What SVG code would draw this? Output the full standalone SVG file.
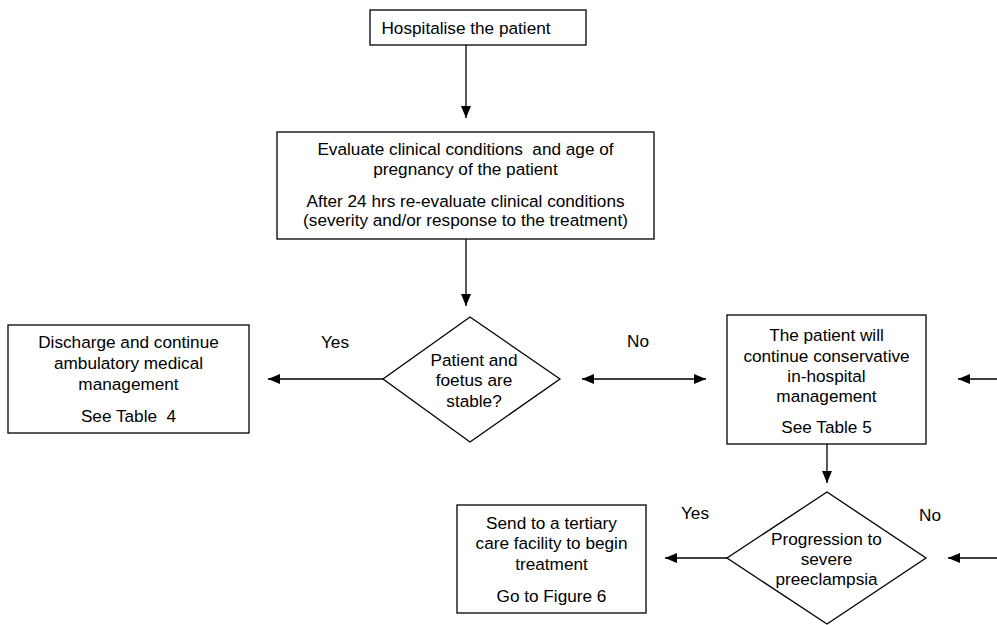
<svg xmlns="http://www.w3.org/2000/svg" width="997" height="625" viewBox="0 0 997 625">
<style>
  .box { fill: #fff; stroke: #000; stroke-width: 1.3; }
  .line { fill: none; stroke: #000; stroke-width: 1.3; }
  text { font-family: "Liberation Sans", Arial, sans-serif; font-size: 17.2px; fill: #000; text-anchor: middle; }
</style>
<defs>
  <marker id="arrow" markerUnits="userSpaceOnUse" markerWidth="13" markerHeight="11" refX="12" refY="5" orient="auto-start-reverse">
    <path d="M0,0 L12,5 L0,10 z" fill="#000"/>
  </marker>
</defs>
<rect width="997" height="625" fill="#fff"/>

<g id="connectors">
  <line class="line" x1="466" y1="45" x2="466" y2="118" marker-end="url(#arrow)"/>
  <line class="line" x1="466" y1="239" x2="466" y2="306" marker-end="url(#arrow)"/>
  <line class="line" x1="383" y1="379" x2="268" y2="379" marker-end="url(#arrow)"/>
  <line class="line" x1="582" y1="379" x2="706" y2="379" marker-start="url(#arrow)" marker-end="url(#arrow)"/>
  <line class="line" x1="997" y1="379" x2="958" y2="379" marker-end="url(#arrow)"/>
  <line class="line" x1="827" y1="444" x2="827" y2="483" marker-end="url(#arrow)"/>
  <line class="line" x1="727" y1="558" x2="665" y2="558" marker-end="url(#arrow)"/>
  <line class="line" x1="997" y1="558" x2="948" y2="558" marker-end="url(#arrow)"/>
  <text x="335" y="348">Yes</text>
  <text x="638" y="347">No</text>
  <text x="695" y="519">Yes</text>
  <text x="930" y="521">No</text>
</g>

<g id="hospitalise">
  <rect class="box" x="370" y="10" width="216" height="35"/>
  <text x="466" y="34">Hospitalise the patient</text>
</g>

<g id="evaluate">
  <rect class="box" x="277" y="132" width="377" height="107"/>
  <text x="465.5" y="155" xml:space="preserve">Evaluate clinical conditions  and age of</text>
  <text x="465.5" y="175">pregnancy of the patient</text>
  <text x="465.5" y="207">After 24 hrs re-evaluate clinical conditions</text>
  <text x="465.5" y="226">(severity and/or response to the treatment)</text>
</g>

<g id="stable">
  <polygon class="box" points="470,317 560,379 470,442 383,379"/>
  <text x="474" y="366">Patient and</text>
  <text x="474" y="386">foetus are</text>
  <text x="474" y="407">stable?</text>
</g>

<g id="discharge">
  <rect class="box" x="8" y="325" width="241" height="108"/>
  <text x="128.5" y="348">Discharge and continue</text>
  <text x="128.5" y="369">ambulatory medical</text>
  <text x="128.5" y="390">management</text>
  <text x="128.5" y="422" xml:space="preserve">See Table  4</text>
</g>

<g id="conservative">
  <rect class="box" x="727" y="315" width="199" height="129"/>
  <text x="826.5" y="341">The patient will</text>
  <text x="826.5" y="362">continue conservative</text>
  <text x="826.5" y="382">in-hospital</text>
  <text x="826.5" y="402">management</text>
  <text x="826.5" y="433">See Table 5</text>
</g>

<g id="progression">
  <polygon class="box" points="827,492 926,558 827,624 727,558"/>
  <text x="826.5" y="545">Progression to</text>
  <text x="826.5" y="565">severe</text>
  <text x="826.5" y="585">preeclampsia</text>
</g>

<g id="tertiary">
  <rect class="box" x="457" y="505" width="189" height="108"/>
  <text x="551.5" y="529">Send to a tertiary</text>
  <text x="551.5" y="549">care facility to begin</text>
  <text x="551.5" y="570">treatment</text>
  <text x="551.5" y="602">Go to Figure 6</text>
</g>
</svg>
